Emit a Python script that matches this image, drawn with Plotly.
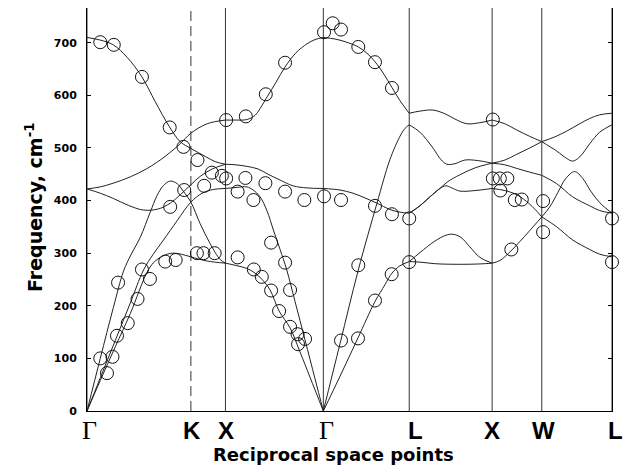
import plotly.graph_objects as go

# ---------------- data ----------------
sym_labels = ["Γ", "K", "X", "Γ", "L", "X", "W", "L"]
sym_pos = [86.7, 190.7, 225.3, 323.3, 409.3, 492.3, 542.0, 612.3]
dashed_points = ["K"]
y_ticks = [0, 100, 200, 300, 400, 500, 600, 700]

# calculated dispersion branches: (path coordinate, frequency cm-1)
gkx_LO = [(86.7, 710), (100, 705), (113, 696), (127, 672), (141.7, 635), (155, 588), (169.3, 540),
          (180, 512), (190.7, 499), (205, 484), (215, 474), (225.3, 469)]
gkx_TO1 = [(86.7, 422), (100, 426), (113, 433), (130, 445), (147, 461), (165, 484), (180, 508),
           (190.7, 528), (207, 546), (225.3, 553)]
gkx_TO2 = [(86.7, 422), (100, 414), (113, 404), (128, 391), (143, 382), (158, 384), (170, 395),
           (180, 411), (190.7, 430), (200, 446), (212, 460), (225.3, 469)]
gkx_LA = [(86.7, 0), (100, 100), (113, 196), (123.3, 266), (131, 298), (140, 330), (150, 378),
          (157, 410), (163, 428), (170, 437), (177, 432), (183, 418), (190.7, 397), (200, 356),
          (210, 318), (220, 288), (225.3, 281)]
gkx_TA1 = [(86.7, 0), (100, 63), (115, 134), (130, 205), (143.3, 268), (153, 298), (163.3, 325),
           (177, 362), (190.7, 397), (202, 414), (213, 421), (225.3, 423)]
gkx_TA2 = [(86.7, 0), (100, 58), (115, 122), (130, 185), (148, 268), (155, 285), (163, 295),
           (172, 300), (181, 298), (190.7, 293), (207, 285), (225.3, 281)]

xg_LO = [(225.3, 553), (235, 553), (246.7, 554), (255, 562), (260, 575), (267, 597), (276, 625),
         (285, 654), (296, 681), (307, 698), (315, 706), (323.3, 710)]
xg_TO = [(225.3, 469), (235, 468), (246.7, 465), (258, 460), (268, 450), (280, 439), (293, 428),
         (307, 424), (323.3, 423)]
xg_LA = [(225.3, 423), (237, 425), (246.7, 426), (253, 420), (260, 407), (267, 380), (273.3, 344),
         (280, 307), (286.7, 268), (295, 208), (305, 135), (315, 61), (323.3, 0)]
xg_TA = [(225.3, 281), (235, 277), (246.7, 271), (255, 262), (262, 250), (270, 230), (279, 190),
         (290, 158), (300, 112), (310, 64), (323.3, 0)]

gl_LO = [(323.3, 710), (335, 707), (345, 702), (358.3, 692), (367, 680), (375, 664), (384, 640),
         (392, 615), (400, 590), (409.3, 566)]
gl_TO = [(323.3, 423), (340, 420), (353, 414), (365, 405), (377, 395), (390, 383), (400, 378),
         (409.3, 376)]
gl_LA = [(323.3, 0), (340, 128), (358.3, 268), (377, 395), (390, 478), (400, 522), (405, 537),
         (409.3, 544)]
gl_TA = [(323.3, 0), (340, 66), (358, 139), (375, 208), (385, 240), (392, 262), (400, 276),
         (409.3, 284)]

lx_LO = [(409.3, 566), (420, 570), (433, 572), (445, 565), (455, 555), (467, 546), (480, 548),
         (492.3, 553)]
lx_LA = [(409.3, 544), (420, 530), (433, 500), (441, 478), (447, 469), (455, 470), (465, 477),
         (478, 476), (492.3, 471)]
lx_TOa = [(409.3, 376), (420, 390), (430, 407), (440, 423), (446, 428), (452, 424), (460, 418),
          (475, 419), (492.3, 423)]
lx_TOb = [(409.3, 376), (420, 390), (430, 407), (440, 423), (448, 436), (460, 449), (475, 462),
          (492.3, 471)]
lx_TAa = [(409.3, 284), (420, 301), (435, 323), (446, 334), (453, 336), (461, 330), (470, 312),
          (480, 292), (492.3, 281)]
lx_TAb = [(409.3, 284), (420, 283), (435, 280), (450, 279), (470, 279), (485, 280), (492.3, 281)]

xw_1 = [(492.3, 553), (505, 546), (517, 534), (530, 522), (542, 512)]
xw_2 = [(492.3, 471), (505, 477), (517, 488), (530, 500), (542, 512)]
xw_3 = [(492.3, 471), (505, 468), (517, 461), (530, 454), (542, 448)]
xw_4 = [(492.3, 423), (505, 419), (517, 411), (530, 393), (542, 369)]
xw_5 = [(492.3, 281), (500, 286), (510, 302), (520, 322), (530, 343), (542, 369)]

wl_1 = [(542, 512), (555, 521), (567, 532), (580, 546), (590, 556), (600, 563), (612.3, 566)]
wl_2 = [(542, 512), (557, 494), (567, 480), (573, 475), (580, 483), (590, 508), (600, 530),
        (612.3, 544)]
wl_3 = [(542, 448), (557, 432), (573, 407), (590, 390), (600, 381), (612.3, 376)]
wl_4 = [(542, 369), (550, 388), (558, 415), (566, 442), (575, 455), (583, 442), (591, 418),
        (600, 396), (612.3, 376)]
wl_5 = [(542, 369), (557, 350), (573, 325), (590, 307), (600, 298), (612.3, 293)]

branches = [gkx_LO, gkx_TO1, gkx_TO2, gkx_LA, gkx_TA1, gkx_TA2,
            xg_LO, xg_TO, xg_LA, xg_TA,
            gl_LO, gl_TO, gl_LA, gl_TA,
            lx_LO, lx_LA, lx_TOa, lx_TOb, lx_TAa, lx_TAb,
            xw_1, xw_2, xw_3, xw_4, xw_5,
            wl_1, wl_2, wl_3, wl_4, wl_5]

# experimental points
exp_points = [
    (86, 720), (100, 701), (113.5, 696), (141.7, 635), (169.5, 539), (183.3, 502), (197.3, 477),
    (86, 407), (170, 388), (184, 420), (204, 428), (211.7, 453), (221.7, 447), (226, 442),
    (226, 553), (245.7, 560), (265.7, 602), (285, 662), (324, 720), (332.7, 737), (341, 725),
    (237.5, 417), (253.3, 401), (245.3, 443), (265.3, 433), (285, 417), (304.3, 401), (324, 408),
    (196.7, 300), (203.3, 300), (214.5, 300), (237.5, 292), (253.7, 269), (261.7, 255), (271, 320),
    (285, 282),
    (100, 100), (106.7, 72), (112.2, 103), (116.7, 143), (127.5, 167), (137.3, 213), (141.7, 269),
    (149.7, 251), (117.8, 244), (165, 284), (175.5, 287),
    (271, 229), (279, 190), (290, 230), (290, 160), (297.5, 146), (298, 127), (305, 137),
    (358.3, 692), (375, 663), (392, 614), (493, 554), (493, 442), (500, 442), (507.5, 442),
    (500.5, 419), (515, 401), (522, 402), (543.3, 399), (341, 401), (375, 390), (392, 374),
    (409.3, 366), (612.3, 366), (543.3, 340), (358.3, 277), (391.7, 260), (375, 210), (341, 134),
    (358, 138), (409.3, 283), (511.5, 307), (612.3, 283),
]

# ---------------- figure ----------------
fig = go.Figure()
for br in branches:
    fig.add_trace(go.Scatter(
        x=[p[0] for p in br], y=[p[1] for p in br], mode="lines",
        line=dict(color="#222", width=1, shape="spline", smoothing=1),
        hoverinfo="skip", showlegend=False, cliponaxis=True))

fig.add_trace(go.Scatter(
    x=[p[0] for p in exp_points], y=[p[1] for p in exp_points], mode="markers",
    marker=dict(symbol="circle-open", size=13, color="#111", line=dict(width=1)),
    showlegend=False, cliponaxis=False))

label_shift = [2, 1, 1, 3, 6, 0, 2, 3]
for lab, pos, dx in zip(sym_labels, sym_pos, label_shift):
    fig.add_shape(type="line", xref="x", yref="paper", x0=pos, x1=pos, y0=0, y1=1,
                  line=dict(color="#333", width=1,
                            dash="10px,5px" if lab in dashed_points else "solid"),
                  layer="below")
    if lab == "Γ":
        font = dict(family="Liberation Serif", size=26, color="black")
    else:
        font = dict(family="Liberation Sans", size=24, color="black", weight="bold")
    fig.add_annotation(x=pos, y=-0.049, xref="x", yref="paper", text=lab, showarrow=False,
                       font=font, xanchor="center", yanchor="middle", xshift=dx)

fig.add_annotation(x=0.4686, y=-0.107, xref="paper", yref="paper",
                   text="Reciprocal space points", showarrow=False,
                   font=dict(family="DejaVu Sans", size=18, color="black", weight="bold"),
                   xanchor="center", yanchor="middle")
fig.add_annotation(x=-0.1, y=0.505, xref="paper", yref="paper",
                   text="Frequency, cm<sup>-1</sup>", showarrow=False, textangle=-90,
                   font=dict(family="DejaVu Sans", size=19, color="black", weight="bold"),
                   xanchor="center", yanchor="middle")

fig.update_layout(
    width=625, height=469,
    margin=dict(l=87, r=13, t=8, b=58),
    paper_bgcolor="white", plot_bgcolor="white",
    xaxis=dict(range=[sym_pos[0], sym_pos[-1]], showgrid=False, zeroline=False,
               showline=True, linecolor="black", linewidth=1, ticks="",
               showticklabels=False, fixedrange=True),
    yaxis=dict(range=[0, 766], showgrid=False, zeroline=False, showline=True,
               linecolor="black", linewidth=1, mirror="ticks", ticks="inside", ticklen=4,
               tickcolor="black", tickvals=y_ticks, ticktext=[str(v) for v in y_ticks],
               tickfont=dict(family="DejaVu Sans", size=11, color="black", weight="bold"),
               ticklabelstandoff=7),
)

fig.write_html("out.html")
